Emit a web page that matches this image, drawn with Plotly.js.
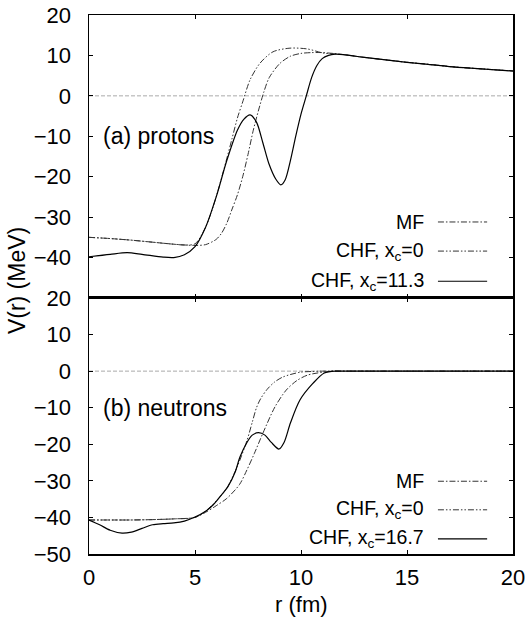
<!DOCTYPE html>
<html><head><meta charset="utf-8">
<script src="https://cdn.plot.ly/plotly-3.0.1.min.js"></script>
<style>html,body{margin:0;padding:0;background:#fff}#plot{width:530px;height:619px}</style>
</head><body><div id="plot"></div>
<script>
// ---- (a) protons ----
var rProtMF  = [0,1,2,3,4,5,5.5,6,6.25,6.5,6.75,7,7.25,7.5,7.75,8,8.25,8.5,9,9.5,10,10.5,11,11.5,12,13,14,15,16,17,18,19,20];
var vProtMF  = [-35,-35.3,-35.7,-36.2,-36.7,-37,-36.8,-35.5,-34,-31.5,-28,-24.5,-20,-14.5,-8.5,-3.5,1,4.5,8,9.8,10.5,10.7,10.7,10.5,10.2,9.5,8.9,8.3,7.8,7.25,6.85,6.5,6.15];
var rProtC0  = [0,1,2,3,4,4.5,5,5.5,6,6.5,6.75,7,7.25,7.6,8.07,8.68,9.48,10.3,11.04,11.5,12,13,14,15,16,17,18,19,20];
var vProtC0  = [-35,-35.3,-35.7,-36.2,-36.7,-36.9,-36.6,-32.5,-25,-15.5,-10.5,-5.5,-1.5,4,8.1,10.9,11.8,11.6,10.6,10.4,10.2,9.5,8.9,8.3,7.8,7.25,6.85,6.5,6.15];
var rProtCx  = [0,1,1.8,2.5,3.5,4,4.5,5,5.5,6,6.5,7,7.3,7.6,7.9,8.2,8.5,8.8,9.05,9.25,9.5,9.75,10,10.25,10.5,10.75,11,11.3,11.6,12,13,14,15,16,17,18,19,20];
var vProtCx  = [-39.8,-39.2,-38.8,-39.2,-39.9,-40,-39.3,-37.3,-32.5,-25,-16,-8.5,-5.8,-4.7,-6.5,-11.6,-17,-20.5,-22,-20.8,-16,-10,-4.5,0,4.5,7.5,9.2,10,10.3,10.2,9.5,8.9,8.3,7.8,7.25,6.85,6.5,6.15];
// ---- (b) neutrons ----
var rNeutMF  = [0,1,2,3,4,5,5.5,6,6.5,7.1,7.45,7.8,8.2,8.77,9.3,9.8,10.3,11,11.5,12,14,16,18,20];
var vNeutMF  = [-40.7,-40.7,-40.7,-40.6,-40.4,-40,-38.6,-36.8,-34.8,-31,-27,-22.5,-17,-9.8,-5.2,-2.6,-1.1,-0.3,0,0,0,0,0,0];
var rNeutC0  = [0,1,2,3,4,5,5.5,6,6.5,7,7.45,7.7,7.9,8.1,8.4,8.75,9.15,9.95,10.5,11,12,14,16,18,20];
var vNeutC0  = [-40.7,-40.7,-40.7,-40.6,-40.4,-40,-38.3,-35.5,-32,-26,-19,-14,-10,-7.5,-5,-3,-1.6,-0.3,-0.1,0,0,0,0,0,0];
var rNeutCx  = [0,0.5,1,1.56,2,2.5,3,3.5,4,4.5,5,5.5,5.85,6.2,6.56,6.9,7.12,7.45,7.7,8,8.3,8.6,8.96,9.2,9.5,9.95,10.57,11.1,11.7,12,14,16,18,20];
var vNeutCx  = [-40.7,-42,-43.5,-44.3,-44,-43,-42,-41.7,-41.5,-41,-39.9,-38.3,-36.6,-34.2,-31.5,-27.5,-23.5,-19.5,-17.5,-16.8,-17.5,-19.5,-21.3,-19.5,-14.2,-7.9,-3.3,-0.5,0,0,0,0,0,0];

var xTicks = [0,5,10,15,20];
var yTicksTop = [-40,-30,-20,-10,0,10,20];
var yTicksBot = [-50,-40,-30,-20,-10,0,10,20];
var legTop = ['MF','CHF, x<sub>c</sub>=0','CHF, x<sub>c</sub>=11.3'];
var legBot = ['MF','CHF, x<sub>c</sub>=0','CHF, x<sub>c</sub>=16.7'];

var DASH_MF = '6px,2px,1.5px,2px';
var DASH_C0 = '6px,2px,1.5px,2px,1.5px,2px';
var styles = [
  {color:'#333', width:1, dash:DASH_MF},
  {color:'#333', width:1, dash:DASH_C0},
  {color:'#000', width:1.2, dash:'solid'}
];
function tr(x,y,st,xa,ya){
  return {x:x,y:y,type:'scatter',mode:'lines',xaxis:xa,yaxis:ya,showlegend:false,hoverinfo:'skip',
    line:{color:st.color,width:st.width,dash:st.dash,shape:'spline',smoothing:0.8}};
}
var data = [
  tr(rProtMF,vProtMF,styles[0],'x2','y2'),
  tr(rProtC0,vProtC0,styles[1],'x2','y2'),
  tr(rProtCx,vProtCx,styles[2],'x2','y2'),
  tr(rNeutMF,vNeutMF,styles[0],'x','y'),
  tr(rNeutC0,vNeutC0,styles[1],'x','y'),
  tr(rNeutCx,vNeutCx,styles[2],'x','y')
];

var F = 'Liberation Sans, Arial, Helvetica, sans-serif';
var axCommon = {showline:true, linecolor:'#000', linewidth:1.5, mirror:'ticks', ticks:'inside', ticklen:4,
  tickcolor:'#000', showgrid:false, zeroline:false, tickfont:{family:F,size:22,color:'#000'}};

var split = 0.475;
var legRowsTop = [0.616,0.562,0.506];
var legRowsBot = [0.135,0.082,0.028];
var annotations = [
  {text:'(a) protons', x:0.55, y:-10, xref:'x2', yref:'y2', xanchor:'left', yanchor:'middle', showarrow:false, font:{family:F,size:23,color:'#000'}},
  {text:'(b) neutrons', x:0.55, y:-10, xref:'x', yref:'y', xanchor:'left', yanchor:'middle', showarrow:false, font:{family:F,size:23,color:'#000'}},
  {text:'V(r) (MeV)', x:-0.17, y:0.508, xref:'paper', yref:'paper', textangle:-90, xanchor:'center', yanchor:'middle', showarrow:false, font:{family:F,size:23,color:'#000'}},
  {text:'r (fm)', x:0.5, y:-0.093, xref:'paper', yref:'paper', xanchor:'center', yanchor:'middle', showarrow:false, font:{family:F,size:22,color:'#000'}}
];
var shapes = [
  {type:'line', xref:'x2', yref:'y2', x0:0, x1:20, y0:0, y1:0, line:{color:'#aaa', width:1, dash:'4px,2px'}, layer:'below'},
  {type:'line', xref:'x', yref:'y', x0:0, x1:20, y0:0, y1:0, line:{color:'#aaa', width:1, dash:'4px,2px'}, layer:'below'},
  {type:'line', xref:'paper', yref:'paper', x0:0, x1:1, y0:split, y1:split, line:{color:'#000', width:2}}
];
function addLegend(labels, rows){
  for (var i=0;i<3;i++){
    annotations.push({text:labels[i], x:0.795, y:rows[i], xref:'paper', yref:'paper', xanchor:'right', yanchor:'middle',
      showarrow:false, font:{family:F,size:19.5,color:'#000'}});
    shapes.push({type:'line', xref:'paper', yref:'paper', x0:0.823, x1:0.939, y0:rows[i], y1:rows[i],
      line:{color:styles[i].color, width:styles[i].width, dash:styles[i].dash}});
  }
}
addLegend(legTop, legRowsTop);
addLegend(legBot, legRowsBot);

var layout = {
  width:530, height:619, paper_bgcolor:'#fff', plot_bgcolor:'#fff',
  margin:{l:89, r:17, t:15, b:65},
  showlegend:false,
  font:{family:F, color:'#000'},
  xaxis: Object.assign({}, axCommon, {domain:[0,1], range:[0,20], anchor:'y', tickvals:xTicks, ticklabelstandoff:3}),
  xaxis2: Object.assign({}, axCommon, {domain:[0,1], range:[0,20], anchor:'y2', matches:'x', tickvals:xTicks, showticklabels:false}),
  yaxis: Object.assign({}, axCommon, {domain:[0,split], range:[-50,20], anchor:'x', tickvals:yTicksBot, ticklabelstandoff:12}),
  yaxis2: Object.assign({}, axCommon, {domain:[split,1], range:[-50,20], anchor:'x2', tickvals:yTicksTop, ticklabelstandoff:12}),
  annotations:annotations, shapes:shapes
};
Plotly.newPlot('plot', data, layout, {staticPlot:true, displayModeBar:false});
</script></body></html>
